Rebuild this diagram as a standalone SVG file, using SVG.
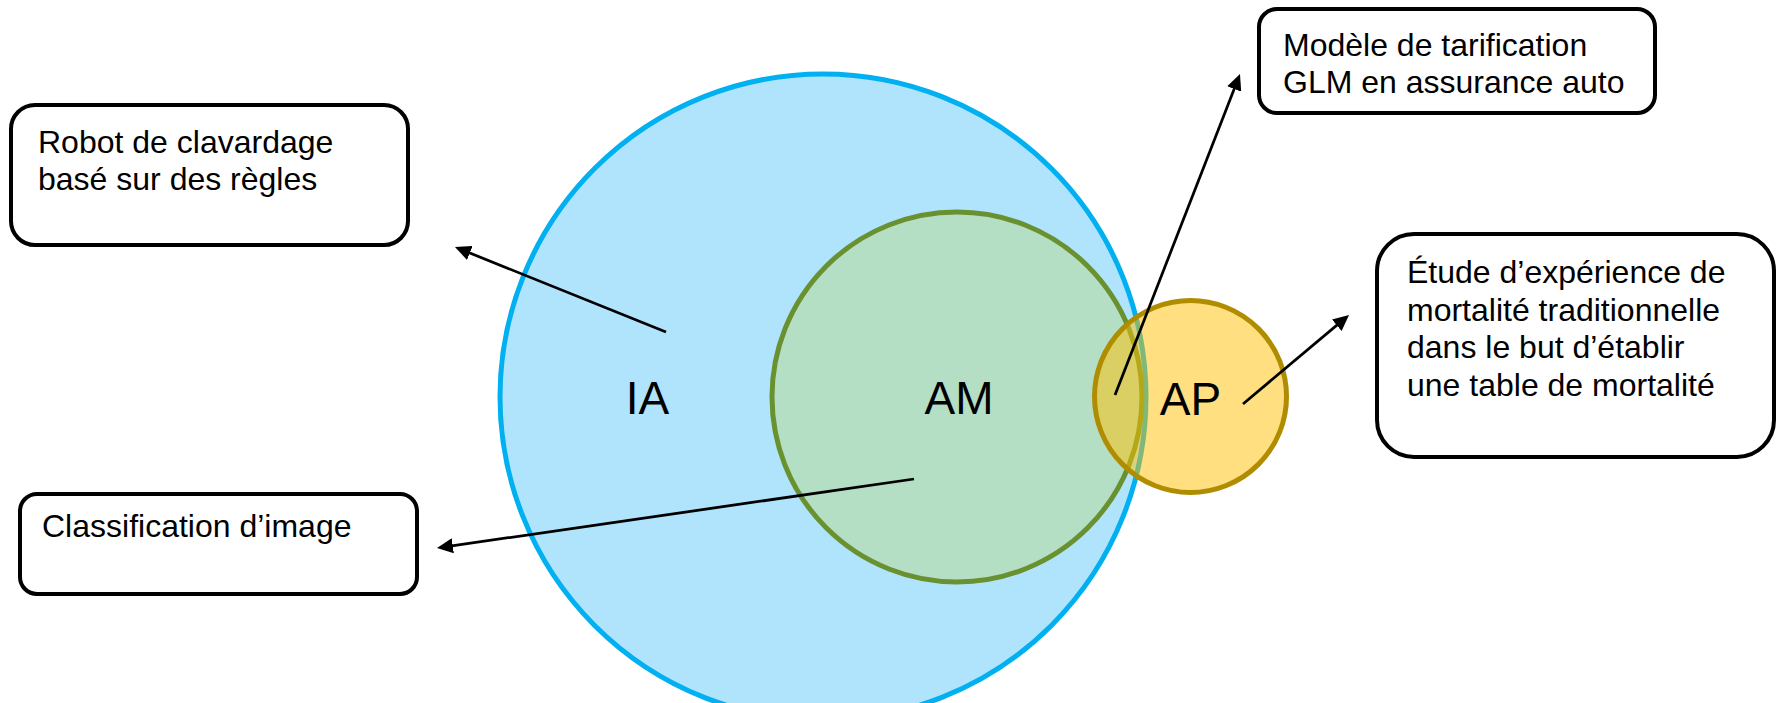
<svg xmlns="http://www.w3.org/2000/svg" width="1781" height="703" viewBox="0 0 1781 703">
  <style>
    .box { fill: #ffffff; stroke: #000000; stroke-width: 4; }
    .txt { font-family: "Liberation Sans", Arial, sans-serif; font-size: 32px; fill: #000000; }
    .lbl { font-family: "Liberation Sans", Arial, sans-serif; font-size: 46px; fill: #000000; text-anchor: middle; }
    .conn { stroke: #000000; stroke-width: 2.75; fill: none; marker-end: url(#arr); }
  </style>
  <defs>
    <marker id="arr" markerUnits="userSpaceOnUse" markerWidth="16" markerHeight="15" viewBox="0 0 16 15" refX="8" refY="7.5" orient="auto">
      <path d="M0,0 L16,7.5 L0,15 z" fill="#000000"/>
    </marker>
  </defs>
  <rect width="1781" height="703" fill="#ffffff"/>

  <g id="ia">
    <circle cx="823" cy="397" r="323" fill="#B0E4FC" stroke="#00B0F0" stroke-width="5"/>
    <text class="lbl" x="647.5" y="414">IA</text>
  </g>
  <g id="am">
    <circle cx="957" cy="397" r="185" fill="#B4DFC5" stroke="#6A9130" stroke-width="5"/>
    <text class="lbl" x="959" y="414">AM</text>
  </g>
  <g id="ap">
    <circle cx="1190.5" cy="396.5" r="96" fill="#FFC000" fill-opacity="0.5" stroke="#B08D00" stroke-width="5"/>
    <text class="lbl" x="1190.5" y="415">AP</text>
  </g>

  <g id="box-robot">
    <rect class="box" x="11" y="105" width="397" height="140" rx="24" ry="24"/>
    <text class="txt" x="38" y="153">Robot de clavardage</text>
    <text class="txt" x="38" y="190">basé sur des règles</text>
  </g>
  <g id="box-classification">
    <rect class="box" x="20" y="494" width="397" height="100" rx="17" ry="17"/>
    <text class="txt" x="42" y="537">Classification d’image</text>
  </g>
  <g id="box-glm">
    <rect class="box" x="1259" y="9" width="396" height="104" rx="18" ry="18"/>
    <text class="txt" x="1283" y="56">Modèle de tarification</text>
    <text class="txt" x="1283" y="93">GLM en assurance auto</text>
  </g>
  <g id="box-etude">
    <rect class="box" x="1377" y="234" width="397" height="223" rx="37" ry="37"/>
    <text class="txt" x="1407" y="283">Étude d’expérience de</text>
    <text class="txt" x="1407" y="320.5">mortalité traditionnelle</text>
    <text class="txt" x="1407" y="358">dans le but d’établir</text>
    <text class="txt" x="1407" y="395.5">une table de mortalité</text>
  </g>

  <g id="connectors">
    <line class="conn" x1="666" y1="332" x2="462.4" y2="250"/>
    <line class="conn" x1="914" y1="479" x2="444.9" y2="546.9"/>
    <line class="conn" x1="1115" y1="395" x2="1237.1" y2="81.5"/>
    <line class="conn" x1="1243" y1="404" x2="1342.9" y2="320.1"/>
  </g>
</svg>
